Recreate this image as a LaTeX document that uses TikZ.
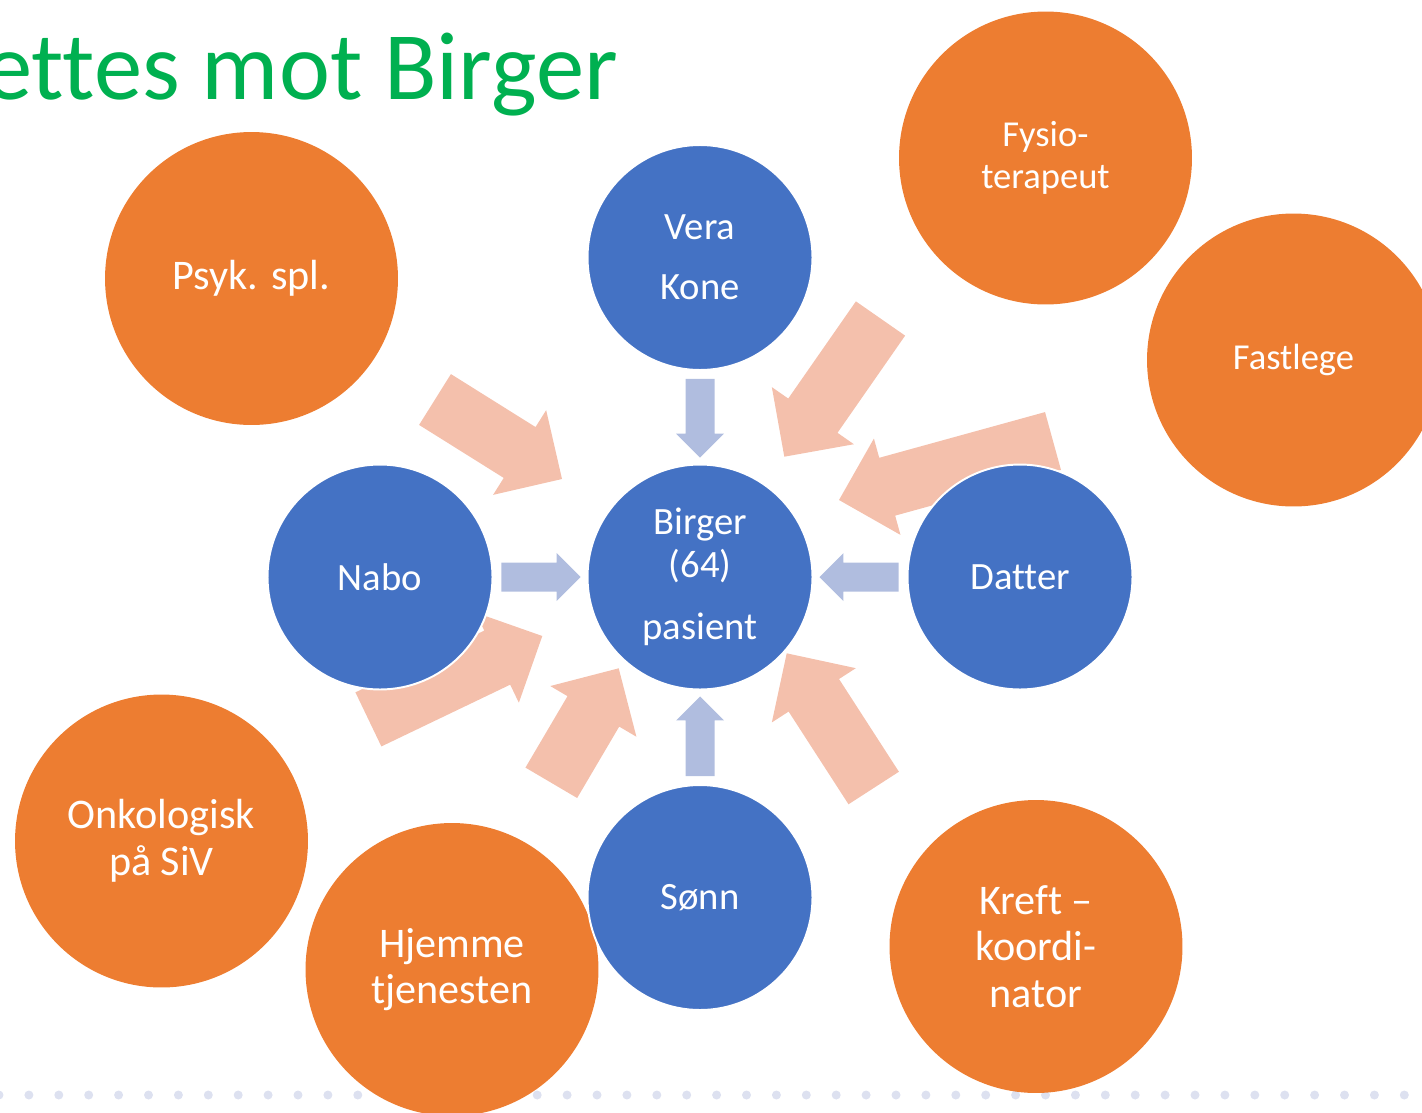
\documentclass[tikz,border=0pt]{standalone}
\usepackage{fontspec}
\setmainfont{Carlito}[Ligatures=NoCommon]
\usetikzlibrary{calc}

\definecolor{oransje}{HTML}{ED7D31}
\definecolor{blaa}{HTML}{4472C4}
\definecolor{lysblaa}{HTML}{B0BDDF}
\definecolor{rosa}{HTML}{F4C0AC}
\definecolor{gronn}{HTML}{00B050}
\definecolor{prikk}{HTML}{DDE1F0}

% blokkpil: farge, hale, spiss, halv skaftbredde, halv hodebredde (= hodelengde)
\newcommand{\blockarrow}[5]{%
  \coordinate (hb) at ($(#3)!#5!(#2)$);
  \fill[#1] ($(#2)!#4!90:(#3)$) -- ($(hb)!#4!90:(#3)$) -- ($(hb)!#5!90:(#3)$) -- (#3)
    -- ($(hb)!#5!-90:(#3)$) -- ($(hb)!#4!-90:(#3)$) -- ($(#2)!#4!-90:(#3)$) -- cycle;
}

\begin{document}
\begin{tikzpicture}[x=0.02cm, y=-0.02cm,
	ytre/.style={circle, fill=oransje, minimum size=5.86cm, inner sep=0pt, outer sep=0pt},
	indre/.style={circle, fill=blaa, draw=white, line width=1.1pt, minimum size=4.5cm, inner sep=0pt, outer sep=0pt},
	stor/.style={text=white, align=center, font=\fontsize{24}{26.5}\selectfont},
	liten/.style={text=white, align=center, font=\fontsize{20.8}{23.9}\selectfont},
	midt/.style={text=white, align=center, font=\fontsize{22}{24.5}\selectfont}]
				\useasboundingbox (0,0) rectangle (1422,1112);

				% prikklinje
				\foreach \i in {0,...,48}
					\fill[prikk] (\i*29.9-1,1095) circle[radius=0.09cm];

				\node[anchor=base east, text=gronn, font=\fontsize{55}{60}\selectfont] (tittel) at (624,99) {ettes mot Birger};

				% sirkler
				\node[ytre] (Psyk) at (251.5,278.5) {};
				\node[ytre] (Fysio) at (1045.5,158) {};
				\node[ytre] (Fast) at (1293.5,360) {};
				\node[ytre] (Onko) at (161.5,841) {};
				\node[ytre] (Hjem) at (452,969.5) {};
				\node[ytre] (Kreft) at (1036,946.5) {};

				% store piler
				\coordinate (PsykS) at (435,399.5);   \coordinate (PsykE) at (562,479);
				\coordinate (FysioS) at (880.5,318.5); \coordinate (FysioE) at (784.3,456.7);
				\coordinate (FastS) at (1053,441);    \coordinate (FastE) at (839,500);
				\coordinate (OnkoS) at (368.4,719.4); \coordinate (OnkoE) at (542.3,636);
				\coordinate (HjemS) at (551.3,782.8); \coordinate (HjemE) at (618.7,668.3);
				\coordinate (KreftS) at (873.7,788);  \coordinate (KreftE) at (786.7,653.3);
				\blockarrow{rosa}{PsykS}{PsykE}{0.6cm}{1cm}
				\blockarrow{rosa}{FysioS}{FysioE}{0.6cm}{1cm}
				\blockarrow{rosa}{FastS}{FastE}{0.6cm}{1cm}
				\blockarrow{rosa}{OnkoS}{OnkoE}{0.6cm}{1cm}
				\blockarrow{rosa}{HjemS}{HjemE}{0.6cm}{1cm}
				\blockarrow{rosa}{KreftS}{KreftE}{0.6cm}{1cm}

				\node[indre] (Vera) at (700,257.5) {};
				\node[indre] (Birger) at (700,577) {};
				\node[indre] (Nabo) at (380,577) {};
				\node[indre] (Datter) at (1020,577) {};
				\node[indre] (Sonn) at (700,897.5) {};

				% små piler
				\coordinate (VeraS) at ($(Vera.south)+(0,9)$);    \coordinate (VeraE) at ($(Birger.north)+(0,-7)$);
				\coordinate (NaboS) at ($(Nabo.east)+(9,0)$);     \coordinate (NaboE) at ($(Birger.west)+(-7,0)$);
				\coordinate (DatterS) at ($(Datter.west)+(-9,0)$); \coordinate (DatterE) at ($(Birger.east)+(7,0)$);
				\coordinate (SonnS) at ($(Sonn.north)+(0,-9)$);   \coordinate (SonnE) at ($(Birger.south)+(0,7)$);
				\blockarrow{lysblaa}{VeraS}{VeraE}{0.29cm}{0.48cm}
				\blockarrow{lysblaa}{NaboS}{NaboE}{0.29cm}{0.48cm}
				\blockarrow{lysblaa}{DatterS}{DatterE}{0.29cm}{0.48cm}
				\blockarrow{lysblaa}{SonnS}{SonnE}{0.29cm}{0.48cm}

				% tekst
				\node[stor] (tPsyk) at (Psyk) {Psyk. spl.};
				\node[liten] (tFysio) at (Fysio) {Fysio-\\terapeut};
				\node[liten] (tFast) at (Fast) {Fastlege};
				\node[stor] (tOnko) at (Onko) {Onkologisk\\på SiV};
				\node[stor] (tHjem) at (Hjem) {Hjemme\\tjenesten};
				\node[stor] (tKreft) at (Kreft) {Kreft –\\koordi-\\nator};
				\node[midt] (tVera) at (Vera) {Vera\\[9.6pt]Kone};
				\node[midt] (tBirger) at (Birger) {Birger\\(64)\\[10.8pt]pasient};
				\node[midt] (tNabo) at (Nabo) {Nabo};
				\node[midt] (tDatter) at (Datter) {Datter};
				\node[midt] (tSonn) at (Sonn) {Sønn};
			\end{tikzpicture}
\end{document}
